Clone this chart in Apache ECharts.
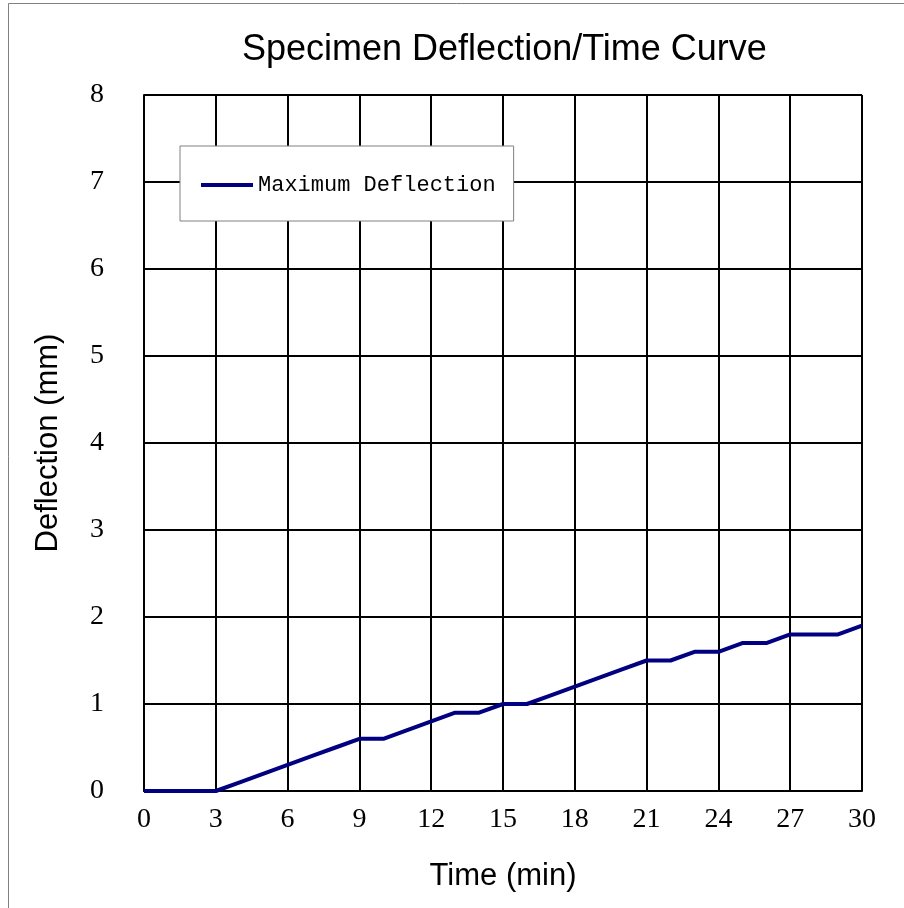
<!DOCTYPE html>
<html>
<head>
<meta charset="utf-8">
<script src="https://cdn.jsdelivr.net/npm/echarts@6/dist/echarts.min.js"></script>
<style>
  html, body { margin: 0; padding: 0; background: #fff; }
  #chart { width: 904px; height: 908px; }
</style>
</head>
<body>
<div id="chart"></div>
<script>
// minutes and max deflection (mm)
var timeMin = [0, 1, 2, 3, 4, 5, 6, 7, 8, 9, 10, 11, 12, 13, 14, 15,
               16, 17, 18, 19, 20, 21, 22, 23, 24, 25, 26, 27, 28, 29, 30];
var deflection = [0, 0, 0, 0, 0.1, 0.2, 0.3, 0.4, 0.5, 0.6, 0.6, 0.7, 0.8, 0.9, 0.9, 1.0,
                  1.0, 1.1, 1.2, 1.3, 1.4, 1.5, 1.5, 1.6, 1.6, 1.7, 1.7, 1.8, 1.8, 1.8, 1.9];
var seriesName = 'Maximum Deflection';

var chart = echarts.init(document.getElementById('chart'));

var pts = [];
for (var i = 0; i < timeMin.length; i++) {
    pts.push([timeMin[i], deflection[i]]);
}

var option = {
    animation: false,
    backgroundColor: '#fff',
    graphic: [{
        type: 'rect',
        left: 6, top: 1,
        shape: { width: 920, height: 930 },
        style: { fill: 'none', stroke: '#808080', lineWidth: 1 },
        silent: true
    }],
    title: {
        text: 'Specimen Deflection/Time Curve',
        left: 237,
        top: 27,
        textStyle: {
            fontFamily: 'Liberation Sans',
            fontSize: 36,
            fontWeight: 'normal',
            color: '#000'
        }
    },
    legend: {
        data: [seriesName],
        left: 180,
        top: 146,
        orient: 'vertical',
        padding: [28, 18, 25, 21],
        icon: 'rect',
        itemWidth: 52,
        itemHeight: 4,
        backgroundColor: '#fff',
        borderColor: '#808080',
        borderWidth: 1,
        textStyle: {
            fontFamily: 'Liberation Mono',
            fontSize: 22,
            color: '#000'
        }
    },
    grid: {
        left: 144,
        right: 42,
        top: 95,
        bottom: 117,
        containLabel: false
    },
    xAxis: {
        type: 'value',
        min: 0,
        max: 30,
        interval: 3,
        name: 'Time (min)',
        nameLocation: 'middle',
        nameGap: 70,
        nameTextStyle: { fontFamily: 'Liberation Sans', fontSize: 31, color: '#000' },
        axisLine: { lineStyle: { color: '#000', width: 2 } },
        axisTick: { show: false },
        axisLabel: { margin: 15, fontFamily: 'Liberation Serif', fontSize: 28, color: '#000' },
        splitLine: { show: true, lineStyle: { color: '#000', width: 2 } }
    },
    yAxis: {
        type: 'value',
        min: 0,
        max: 8,
        interval: 1,
        name: 'Deflection (mm)',
        nameLocation: 'middle',
        nameGap: 80,
        nameTextStyle: { fontFamily: 'Liberation Sans', fontSize: 31, color: '#000' },
        axisLine: { show: true, lineStyle: { color: '#000', width: 2 } },
        axisTick: { show: false },
        axisLabel: { margin: 40, fontFamily: 'Liberation Serif', fontSize: 28, color: '#000' },
        splitLine: { show: true, lineStyle: { color: '#000', width: 2 } }
    },
    series: [{
        name: seriesName,
        type: 'line',
        data: pts,
        symbol: 'none',
        color: '#000080',
        lineStyle: { color: '#000080', width: 4 }
    }]
};
chart.setOption(option);
</script>
</body>
</html>
